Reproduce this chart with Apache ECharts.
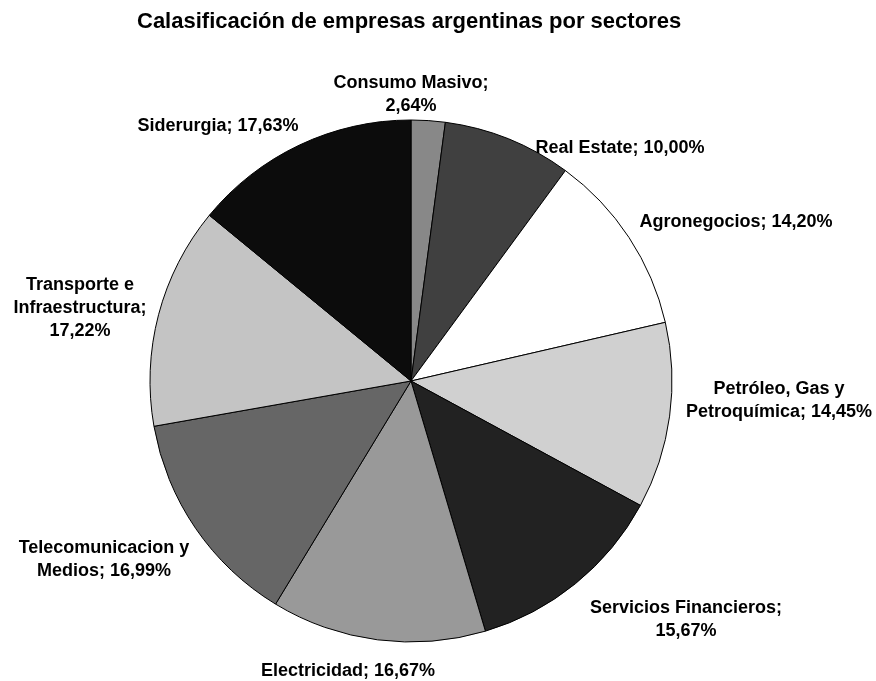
<!DOCTYPE html>
<html>
<head>
<meta charset="utf-8">
<script src="https://cdn.jsdelivr.net/npm/echarts@6/dist/echarts.min.js"></script>
<style>
  html, body { margin: 0; padding: 0; background: #fff; }
  #chart { width: 876px; height: 681px; }
</style>
</head>
<body>
<div id="chart"></div>
<script>
// sectores, en sentido horario desde las 12
const sectores = [
  'Consumo Masivo', 'Real Estate', 'Agronegocios', 'Petróleo, Gas y\nPetroquímica',
  'Servicios Financieros', 'Electricidad', 'Telecomunicacion y\nMedios',
  'Transporte e\nInfraestructura', 'Siderurgia'
]
const valores = [2.64, 10.00, 14.20, 14.45, 15.67, 16.67, 16.99, 17.22, 17.63]
// separador entre "nombre;" y el valor
const separador = ['\n', ' ', ' ', ' ', '\n', ' ', ' ', '\n', ' ']
const colores = ['#888888', '#404040', '#ffffff', '#d0d0d0', '#222222', '#999999', '#666666', '#c4c4c4', '#0c0c0c']

// posiciones de etiquetas (centro del texto), como en el original
const labelPos = [
  [411, 95], [620, 148], [736, 222], [779, 401], [686, 620],
  [348, 671], [104, 560], [80, 308], [218, 126]
]

const myChart = echarts.init(document.getElementById('chart'))
const font = '"Liberation Sans", Arial, sans-serif'

const option = {
  animation: false,
  title: {
    text: 'Calasificación de empresas argentinas por sectores',
    left: 132,
    top: 6,
    textStyle: { fontFamily: font, fontSize: 22, fontWeight: 'bold', color: '#000' }
  },
  series: [
    {
      type: 'pie',
      center: [411, 381],
      radius: [0, 261],
      startAngle: 90,
      clockwise: true,
      silent: true,
      itemStyle: { borderColor: '#000', borderWidth: 1 },
      label: {
        show: true,
        position: 'outside',
        fontFamily: font,
        fontSize: 18,
        fontWeight: 'bold',
        color: '#000',
        lineHeight: 23,
        align: 'center',
        overflow: 'none',
        formatter: (p) => p.name + ';' + separador[p.dataIndex] + valores[p.dataIndex].toFixed(2).replace('.', ',') + '%'
      },
      labelLine: { show: false },
      labelLayout: (p) => ({
        x: labelPos[p.dataIndex][0],
        y: labelPos[p.dataIndex][1],
        align: 'center',
        verticalAlign: 'middle'
      }),
      data: sectores.map((name, i) => ({
        name: name,
        value: valores[i],
        itemStyle: { color: colores[i] }
      }))
    }
  ]
}

myChart.setOption(option)
</script>
</body>
</html>
